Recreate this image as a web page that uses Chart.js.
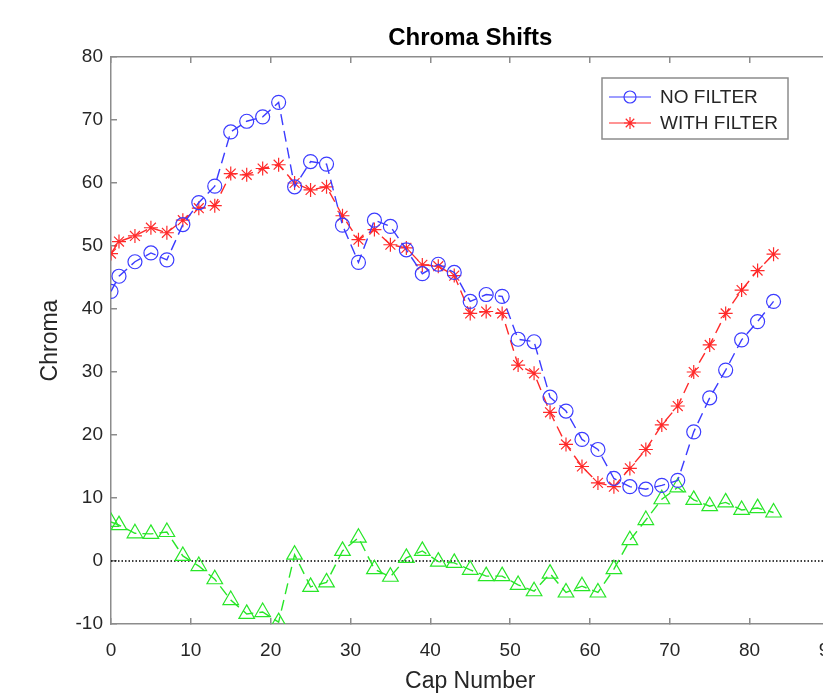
<!DOCTYPE html>
<html>
<head>
<meta charset="utf-8">
<title>Chroma Shifts</title>
<script src="https://cdn.jsdelivr.net/npm/chart.js@4.4.0/dist/chart.umd.min.js"></script>
<style>
  html, body { margin: 0; padding: 0; background: #fff; overflow: hidden; }
  /* wider than the window on purpose: the right edge of the axes (x = 90) is cut off like in the original */
  #wrap { position: relative; width: 861px; height: 693px; }
</style>
</head>
<body>
<div id="wrap"><canvas id="chart"></canvas></div>
<script>
const capNumbers = [0, 1, 3, 5, 7, 9, 11, 13, 15, 17, 19, 21, 23, 25, 27, 29, 31, 33, 35, 37, 39, 41,
  43, 45, 47, 49, 51, 53, 55, 57, 59, 61, 63, 65, 67, 69, 71, 73, 75, 77, 79, 81, 83];

const noFilter = [42.8, 45.2, 47.5, 48.9, 47.8, 53.4, 56.9, 59.5, 68.1, 69.8, 70.5, 72.8, 59.4, 63.4,
  63.0, 53.3, 47.4, 54.1, 53.1, 49.4, 45.6, 47.1, 45.8, 41.2, 42.3, 42.0, 35.2, 34.8, 26.0, 23.8,
  19.3, 17.7, 13.1, 11.8, 11.4, 12.0, 12.8, 20.5, 25.9, 30.3, 35.1, 38.0, 41.2];

const withFilter = [48.8, 50.7, 51.6, 52.9, 52.1, 54.1, 56.0, 56.4, 61.5, 61.3, 62.3, 62.9, 60.0, 58.9,
  59.4, 54.8, 51.0, 52.6, 50.2, 49.7, 47.0, 46.8, 45.3, 39.3, 39.6, 39.3, 31.1, 29.8, 23.6, 18.5,
  15.0, 12.4, 11.8, 14.7, 17.7, 21.6, 24.6, 30.0, 34.3, 39.3, 43.0, 46.1, 48.7];

const chromaShift = [6.2, 5.7, 4.4, 4.3, 4.6, 0.8, -0.8, -2.9, -6.2, -8.4, -8.1, -9.7, 1.0, -4.1,
  -3.4, 1.6, 3.7, -1.3, -2.5, 0.5, 1.6, -0.1, -0.3, -1.4, -2.4, -2.4, -3.8, -4.8, -2.0, -5.0,
  -4.0, -5.0, -1.3, 3.3, 6.5, 9.8, 11.7, 9.7, 8.7, 9.3, 8.1, 8.4, 7.7];

const xRange = [0, 90];
const yRange = [-10, 80];
const seriesNames = ['NO FILTER', 'WITH FILTER'];

const FONT = "'Liberation Sans', Arial, sans-serif";
const AXIS_GREY = '#8c8c8c';
const TEXT_COLOR = '#262626';
const BLUE = '#3c3cff';
const RED = '#ff2a2a';
const GREEN = '#28e628';

const toPoints = (values) => capNumbers.map((cap, i) => ({ x: cap, y: values[i] }));

// matlab style box with inward ticks on all four sides
const boxGrid = {
  drawOnChartArea: false,
  drawTicks: true,
  tickLength: -6,
  color: AXIS_GREY,
  lineWidth: 1.5
};
const boxBorder = { display: true, color: AXIS_GREY, width: 1.5 };

// legend drawn inside the axes, top right, like matlab "northeast"
const insideLegend = {
  id: 'insideLegend',
  afterDatasetsDraw(chart) {
    const ctx = chart.ctx;
    const left = 602, top = 78, width = 186, height = 61;
    ctx.save();
    ctx.fillStyle = '#fff';
    ctx.fillRect(left, top, width, height);
    ctx.strokeStyle = AXIS_GREY;
    ctx.lineWidth = 1.5;
    ctx.strokeRect(left, top, width, height);

    chart.data.datasets.filter(ds => ds.inLegend).forEach((ds, i) => {
      const cy = 97 + i * 26;
      const cx = 630;
      ctx.strokeStyle = ds.borderColor;
      ctx.lineWidth = 1.2;
      ctx.setLineDash([]);
      ctx.beginPath();
      ctx.moveTo(609, cy);
      ctx.lineTo(651, cy);
      ctx.stroke();
      ctx.beginPath();
      if (ds.pointStyle === 'circle') {
        ctx.arc(cx, cy, 6, 0, Math.PI * 2);
      } else {
        for (let a = 0; a < 4; a++) {
          const ang = a * Math.PI / 4;
          ctx.moveTo(cx - Math.cos(ang) * 6, cy - Math.sin(ang) * 6);
          ctx.lineTo(cx + Math.cos(ang) * 6, cy + Math.sin(ang) * 6);
        }
      }
      ctx.stroke();
      ctx.fillStyle = TEXT_COLOR;
      ctx.font = `19px ${FONT}`;
      ctx.textBaseline = 'middle';
      ctx.textAlign = 'left';
      ctx.fillText(ds.label, 660, cy + 1);
    });
    ctx.restore();
  }
};

const lineSeries = (label, values, color, pointStyle, radius, inLegend) => ({
  label,
  data: toPoints(values),
  inLegend,
  borderColor: color,
  borderWidth: 1.4,
  borderDash: [11, 6],
  pointStyle,
  pointRadius: radius,
  pointBorderColor: color,
  pointBorderWidth: 1.2,
  pointBackgroundColor: 'rgba(0,0,0,0)',
  tension: 0,
  fill: false
});

const ctx = document.getElementById('chart').getContext('2d');
new Chart(ctx, {
  type: 'line',
  data: {
    datasets: [
      lineSeries(seriesNames[0], noFilter, BLUE, 'circle', 7, true),
      lineSeries(seriesNames[1], withFilter, RED, 'star', 7, true),
      lineSeries('shift', chromaShift, GREEN, 'triangle', 9, false),
      {
        label: 'zero',
        data: [{ x: xRange[0], y: 0 }, { x: xRange[1], y: 0 }],
        inLegend: false,
        borderColor: '#000',
        borderWidth: 1.5,
        borderDash: [1.5, 2],
        pointRadius: 0,
        fill: false
      }
    ]
  },
  options: {
    responsive: true,
    maintainAspectRatio: false,
    animation: false,
    devicePixelRatio: 1,
    layout: { padding: 0 },
    plugins: {
      legend: { display: false },
      tooltip: { enabled: false },
      title: {
        display: true,
        text: 'Chroma Shifts',
        fullSize: false,
        color: '#000',
        font: { family: FONT, size: 24, weight: 'bold', lineHeight: 1 },
        padding: { top: 26, bottom: 7 }
      }
    },
    scales: {
      x: {
        type: 'linear',
        position: 'bottom',
        min: xRange[0],
        max: xRange[1],
        ticks: { stepSize: 10, color: TEXT_COLOR, font: { family: FONT, size: 19 }, padding: 21, maxRotation: 0 },
        grid: boxGrid,
        border: boxBorder,
        title: {
          display: true,
          text: 'Cap Number',
          color: TEXT_COLOR,
          font: { family: FONT, size: 23, lineHeight: 1 },
          padding: { top: 0, bottom: 0 }
        },
        afterFit: (scale) => { scale.height = 69; }
      },
      x2: {
        type: 'linear',
        position: 'top',
        min: xRange[0],
        max: xRange[1],
        ticks: { stepSize: 10, display: false },
        grid: boxGrid,
        border: boxBorder,
        afterFit: (scale) => { scale.height = 0; }
      },
      y: {
        type: 'linear',
        position: 'left',
        min: yRange[0],
        max: yRange[1],
        ticks: { stepSize: 10, color: TEXT_COLOR, font: { family: FONT, size: 19 }, padding: 14 },
        grid: boxGrid,
        border: boxBorder,
        title: {
          display: true,
          text: 'Chroma',
          color: TEXT_COLOR,
          font: { family: FONT, size: 23, lineHeight: 1 },
          padding: { top: 39, bottom: 0 }
        },
        afterFit: (scale) => { scale.width = 111; }
      },
      y2: {
        type: 'linear',
        position: 'right',
        min: yRange[0],
        max: yRange[1],
        ticks: { stepSize: 10, display: false },
        grid: boxGrid,
        border: boxBorder,
        afterFit: (scale) => { scale.width = 0; }
      }
    }
  },
  plugins: [insideLegend]
});
</script>
</body>
</html>
